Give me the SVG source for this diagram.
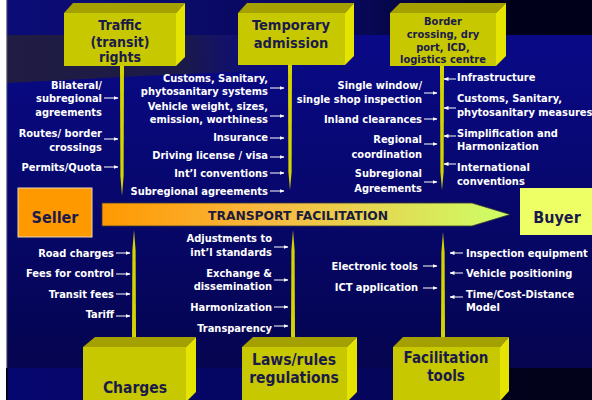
<svg xmlns="http://www.w3.org/2000/svg" width="592" height="400" viewBox="0 0 592 400">
<defs>
<linearGradient id="gMain" x1="0" y1="0" x2="0" y2="1">
<stop offset="0" stop-color="#0a0a8e"/>
<stop offset="1" stop-color="#04044a"/>
</linearGradient>
<linearGradient id="gTop" x1="0" y1="0" x2="1" y2="0">
<stop offset="0" stop-color="#0c0c78"/>
<stop offset="0.6" stop-color="#08085a"/>
<stop offset="0.83" stop-color="#00001c"/>
<stop offset="1" stop-color="#00001a"/>
</linearGradient>
<linearGradient id="gBot" x1="0" y1="0" x2="1" y2="0">
<stop offset="0" stop-color="#060670"/>
<stop offset="0.7" stop-color="#05055a"/>
<stop offset="0.85" stop-color="#02021c"/>
<stop offset="1" stop-color="#02021a"/>
</linearGradient>
<linearGradient id="gBand" x1="0" y1="0" x2="1" y2="0">
<stop offset="0" stop-color="#201c42"/>
<stop offset="0.3" stop-color="#1c1a48"/>
<stop offset="0.55" stop-color="#0a0a8a" stop-opacity="0"/>
</linearGradient>
<linearGradient id="gArrow" x1="0" y1="0" x2="1" y2="0">
<stop offset="0" stop-color="#ff9900"/>
<stop offset="0.4" stop-color="#f8b840"/>
<stop offset="1" stop-color="#ccff66"/>
</linearGradient>
<marker id="ah" markerWidth="5" markerHeight="4" refX="4.5" refY="2" orient="auto" markerUnits="userSpaceOnUse">
<path d="M0,0 L5,2 L0,4 Z" fill="#ffffff"/>
</marker>
<style>
.lb{font-family:"DejaVu Sans Condensed","DejaVu Sans",sans-serif;font-stretch:condensed;font-weight:bold;font-size:11px;fill:#ffffff}
.e{text-anchor:end}
.bt{font-family:"DejaVu Sans Condensed","DejaVu Sans",sans-serif;font-stretch:condensed;font-weight:bold;fill:#1b1b4b;text-anchor:middle}
.ar{stroke:#ffffff;stroke-width:1;fill:none;marker-end:url(#ah)}
.front{fill:#c8c800}
.topf{fill:#a4a000}
.side{fill:#e4e400}
.spike{fill:#d4d400}
</style>
</defs>
<!-- background -->
<rect x="0" y="0" width="592" height="400" fill="url(#gMain)"/>
<rect x="0" y="0" width="592" height="35" fill="url(#gTop)"/>
<path d="M6,35 L592,35 L592,62 Q300,66 6,83 Z" fill="url(#gBand)"/>
<rect x="0" y="368" width="592" height="32" fill="url(#gBot)"/>
<rect x="0" y="0" width="6" height="400" fill="#ffffff"/>
<rect x="6" y="0" width="1.2" height="368" fill="#8a8aa0"/>
<rect x="6" y="368" width="1.5" height="32" fill="#000000"/>

<!-- connectors: spikes and label arrows -->
<g id="connectors">
<polygon class="spike" points="120,66 124,66 123.6,176 122,196 120.4,176"/>
<polygon class="spike" points="288,65 292,65 291.6,172 290,190 288.4,172"/>
<polygon class="spike" points="440,66 444,66 443.6,172 442,190 440.4,172"/>
<polygon class="spike" points="132,337 136,337 135.6,250 134,230 132.4,250"/>
<polygon class="spike" points="291,337 295,337 294.6,250 293,230 291.4,250"/>
<polygon class="spike" points="441,337 445,337 444.6,252 443,232 441.4,252"/>
<!-- group A -->
<line class="ar" x1="104" y1="98" x2="118" y2="98"/>
<line class="ar" x1="104" y1="139" x2="118" y2="139"/>
<line class="ar" x1="104" y1="167" x2="118" y2="167"/>
<!-- group B -->
<line class="ar" x1="270" y1="88" x2="284" y2="88"/>
<line class="ar" x1="270" y1="116" x2="284" y2="116"/>
<line class="ar" x1="270" y1="138" x2="284" y2="138"/>
<line class="ar" x1="270" y1="157" x2="284" y2="157"/>
<line class="ar" x1="270" y1="173" x2="284" y2="173"/>
<line class="ar" x1="270" y1="191" x2="284" y2="191"/>
<!-- group C -->
<line class="ar" x1="424" y1="93" x2="437" y2="93"/>
<line class="ar" x1="424" y1="119" x2="437" y2="119"/>
<line class="ar" x1="424" y1="144" x2="437" y2="144"/>
<line class="ar" x1="424" y1="182" x2="437" y2="182"/>
<!-- group D -->
<line class="ar" x1="456" y1="79" x2="444" y2="79"/>
<line class="ar" x1="456" y1="108" x2="444" y2="108"/>
<line class="ar" x1="456" y1="136" x2="444" y2="136"/>
<line class="ar" x1="456" y1="164" x2="444" y2="164"/>
<!-- group E -->
<line class="ar" x1="116" y1="253" x2="130" y2="253"/>
<line class="ar" x1="116" y1="274" x2="130" y2="274"/>
<line class="ar" x1="116" y1="294" x2="130" y2="294"/>
<line class="ar" x1="116" y1="316" x2="130" y2="316"/>
<!-- group F -->
<line class="ar" x1="274" y1="247" x2="288" y2="247"/>
<line class="ar" x1="274" y1="280" x2="288" y2="280"/>
<line class="ar" x1="274" y1="307" x2="288" y2="307"/>
<line class="ar" x1="274" y1="326" x2="288" y2="326"/>
<!-- group G -->
<line class="ar" x1="423" y1="266" x2="437" y2="266"/>
<line class="ar" x1="423" y1="288" x2="437" y2="288"/>
<!-- group H -->
<line class="ar" x1="463" y1="253" x2="450" y2="253"/>
<line class="ar" x1="463" y1="273" x2="450" y2="273"/>
<line class="ar" x1="463" y1="297" x2="450" y2="297"/>
</g>

<!-- labels -->
<g id="labels">
<text class="lb e" x="102" y="89">Bilateral/</text>
<text class="lb e" x="102" y="102">subregional</text>
<text class="lb e" x="102" y="116">agreements</text>
<text class="lb e" x="102" y="137">Routes/ border</text>
<text class="lb e" x="102" y="151">crossings</text>
<text class="lb e" x="102" y="171">Permits/Quota</text>

<text class="lb e" x="268" y="82">Customs, Sanitary,</text>
<text class="lb e" x="268" y="95">phytosanitary systems</text>
<text class="lb e" x="268" y="110">Vehicle weight, sizes,</text>
<text class="lb e" x="268" y="123">emission, worthiness</text>
<text class="lb e" x="268" y="141">Insurance</text>
<text class="lb e" x="268" y="159">Driving license / visa</text>
<text class="lb e" x="268" y="177">Int’l conventions</text>
<text class="lb e" x="268" y="195">Subregional agreements</text>

<text class="lb e" x="422" y="89">Single window/</text>
<text class="lb e" x="422" y="103">single shop inspection</text>
<text class="lb e" x="422" y="123">Inland clearances</text>
<text class="lb e" x="422" y="143">Regional</text>
<text class="lb e" x="422" y="158">coordination</text>
<text class="lb e" x="422" y="177">Subregional</text>
<text class="lb e" x="422" y="192">Agreements</text>

<text class="lb" x="457" y="81">Infrastructure</text>
<text class="lb" x="457" y="102">Customs, Sanitary,</text>
<text class="lb" x="457" y="116">phytosanitary measures</text>
<text class="lb" x="457" y="137">Simplification and</text>
<text class="lb" x="457" y="150">Harmonization</text>
<text class="lb" x="457" y="171">International</text>
<text class="lb" x="457" y="185">conventions</text>

<text class="lb e" x="114" y="257">Road charges</text>
<text class="lb e" x="114" y="277">Fees for control</text>
<text class="lb e" x="114" y="298">Transit fees</text>
<text class="lb e" x="114" y="318">Tariff</text>

<text class="lb e" x="272" y="242">Adjustments to</text>
<text class="lb e" x="272" y="256">int’l standards</text>
<text class="lb e" x="272" y="277">Exchange &amp;</text>
<text class="lb e" x="272" y="290">dissemination</text>
<text class="lb e" x="272" y="311">Harmonization</text>
<text class="lb e" x="272" y="332">Transparency</text>

<text class="lb e" x="418" y="270">Electronic tools</text>
<text class="lb e" x="418" y="291">ICT application</text>

<text class="lb" x="466" y="257">Inspection equipment</text>
<text class="lb" x="466" y="277">Vehicle positioning</text>
<text class="lb" x="466" y="298">Time/Cost-Distance</text>
<text class="lb" x="466" y="311">Model</text>
</g>

<!-- central arrow -->
<g id="transport-facilitation">
<polygon points="102,203 472,203 510,214.5 472,226 102,226" fill="url(#gArrow)" stroke="#3a3a30" stroke-width="0.8"/>
<text x="298" y="219.5" textLength="180" lengthAdjust="spacingAndGlyphs" style="font-family:'DejaVu Sans',sans-serif;font-weight:bold;font-size:12px;fill:#1b1b3b;text-anchor:middle">TRANSPORT FACILITATION</text>
</g>

<g id="seller">
<rect x="18" y="188" width="74" height="49" fill="#ff9900" stroke="#e8d8b8" stroke-width="1"/>
<text class="bt" x="55" y="223" font-size="16">Seller</text>
</g>

<g id="buyer">
<rect x="520" y="188" width="80" height="47" fill="#eeff66"/>
<text class="bt" x="557" y="223" font-size="16">Buyer</text>
</g>

<!-- top boxes -->
<g id="traffic">
<polygon class="topf" points="64,13 73,3 185,3 176,13"/>
<polygon class="side" points="176,13 185,3 185,57 176,66"/>
<rect class="front" x="64" y="13" width="112" height="53"/>
<text class="bt" x="120" y="30" font-size="14">Traffic</text>
<text class="bt" x="120" y="47" font-size="14">(transit)</text>
<text class="bt" x="120" y="62" font-size="14">rights</text>
</g>

<g id="temporary">
<polygon class="topf" points="238,13 247,3 354,3 345,13"/>
<polygon class="side" points="345,13 354,3 354,56 345,65"/>
<rect class="front" x="238" y="13" width="107" height="52"/>
<text class="bt" x="291" y="30" font-size="14.5">Temporary</text>
<text class="bt" x="291" y="48" font-size="14.5">admission</text>
</g>

<g id="border">
<polygon class="topf" points="390,13 400,3 506,3 496,13"/>
<polygon class="side" points="496,13 506,3 506,56 496,66"/>
<rect class="front" x="390" y="13" width="106" height="53"/>
<text class="bt" x="443" y="25" font-size="11">Border</text>
<text class="bt" x="443" y="38" font-size="11">crossing, dry</text>
<text class="bt" x="443" y="51" font-size="11">port, ICD,</text>
<text class="bt" x="443" y="63" font-size="11">logistics centre</text>
</g>

<!-- bottom boxes -->
<g id="charges">
<polygon class="topf" points="83,347 95,337 196,337 186,347"/>
<polygon class="side" points="186,347 196,337 196,392 186,402"/>
<rect class="front" x="83" y="347" width="103" height="55"/>
<text class="bt" x="135" y="393" font-size="15.5">Charges</text>
</g>

<g id="laws">
<polygon class="topf" points="242,347 253,337 357,337 347,347"/>
<polygon class="side" points="347,347 357,337 357,392 347,402"/>
<rect class="front" x="242" y="347" width="105" height="55"/>
<text class="bt" x="294" y="365" font-size="15.5">Laws/rules</text>
<text class="bt" x="294" y="383" font-size="15.5">regulations</text>
</g>

<g id="facilitation">
<polygon class="topf" points="393,347 403,337 509,337 500,347"/>
<polygon class="side" points="500,347 509,337 509,391 500,401"/>
<rect class="front" x="393" y="347" width="107" height="55"/>
<text class="bt" x="446" y="363" font-size="15">Facilitation</text>
<text class="bt" x="446" y="381" font-size="15">tools</text>
</g>
</svg>
